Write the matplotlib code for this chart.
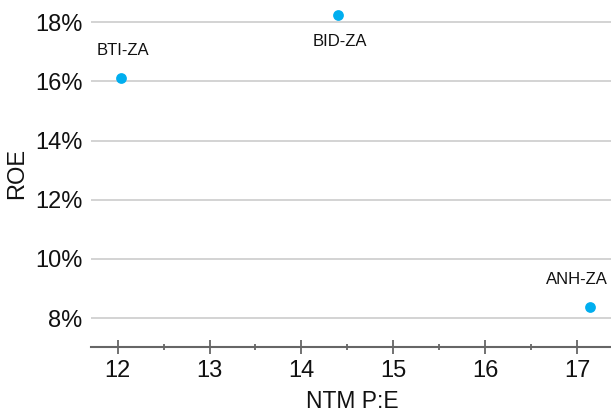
import matplotlib
matplotlib.use("Agg")
import matplotlib.pyplot as plt
from matplotlib.ticker import FuncFormatter, MultipleLocator

names = ["BTI-ZA", "BID-ZA", "ANH-ZA"]
pe = [12.04, 14.40, 17.14]
roe = [16.1, 18.24, 8.37]
label_pos = ["above", "below", "above"]

plt.rcParams['font.family'] = ['Liberation Sans', 'DejaVu Sans']

W, H = 611, 417
fig = plt.figure(figsize=(W/100, H/100), dpi=100)
ax = fig.add_axes([91/W, 1 - 346.5/H, (W-91)/W, 346.5/H])

ax.set_xlim(11.71, 17.37)
ax.set_ylim(7.04, 18.75)

ax.scatter(pe, roe, s=60, color="#00AEEF", zorder=3, linewidths=0)

for n, x, y, p in zip(names, pe, roe, label_pos):
    dy = 28 if p == "above" else -26
    dx = -13 if n == "ANH-ZA" else 2
    ax.annotate(n, (x, y), xytext=(dx, dy), textcoords="offset pixels",
                ha="center", va="center", fontsize=12, color="#111111")

ax.yaxis.set_major_formatter(FuncFormatter(lambda v, p: f"{v:.0f}%"))
ax.xaxis.set_major_locator(MultipleLocator(1))
ax.xaxis.set_minor_locator(MultipleLocator(0.5))
ax.set_yticks([8, 10, 12, 14, 16, 18])

ax.grid(axis="y", color="#cccccc", linewidth=1.2)
ax.set_axisbelow(True)
for s in ["left", "right", "top"]:
    ax.spines[s].set_visible(False)
ax.spines["bottom"].set_color("#666666")
ax.spines["bottom"].set_linewidth(1.5)

ax.tick_params(axis="y", length=0, labelsize=17, pad=6, labelcolor="#111111")
ax.tick_params(axis="x", which="major", direction="inout", length=9.5, width=1.3,
               color="#666666", labelsize=17, pad=5, labelcolor="#111111")
ax.tick_params(axis="x", which="minor", direction="inout", length=5, width=1.3, color="#666666")

ax.set_xlabel("NTM P:E", fontsize=16.5, color="#111111")
ax.set_ylabel("ROE", fontsize=17, color="#111111")
ax.xaxis.label.set_va("center")
ax.yaxis.label.set_va("center")
ax.xaxis.set_label_coords(352/W, 1 - 402/H, transform=fig.transFigure)
ax.yaxis.set_label_coords(17/W, 1 - 173/H, transform=fig.transFigure)

fig.savefig("out.png", dpi=100)
